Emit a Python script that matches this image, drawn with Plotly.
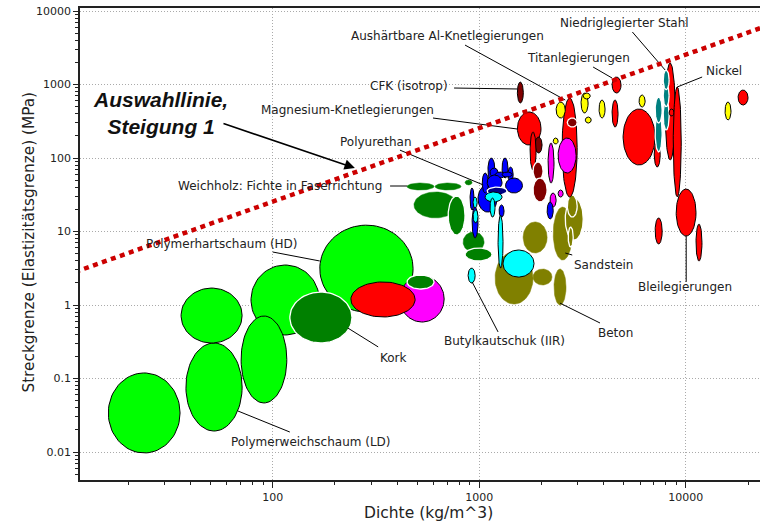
import numpy as np
import plotly.graph_objects as go

# ---------------- data: (family, rho_lo, rho_hi, sigma_lo, sigma_hi) ----------------
# density in kg/m^3, yield strength in MPa
FOAMS_NATURAL = [
    ("foam", 16.0, 35.6, 0.0097, 0.119),
    ("foam", 38.0, 71.1, 0.0193, 0.304),
    ("foam", 36.0, 71.1, 0.304, 1.70),
    ("foam", 78.5, 168, 0.391, 3.50),
    ("foam", 70.3, 117, 0.0465, 0.708),
    ("foam", 169, 478, 0.804, 12.2),
    ("natural", 121, 242, 0.304, 1.50),
    ("techceramic", 413, 676, 0.587, 2.48),
    ("metal", 239, 489, 0.687, 2.06),
    ("natural", 447, 604, 1.65, 2.56),
]
FOAMS_NATURAL_EDGE = "kkkkkkwkkw"

CERAMICS = [
    ("ceramic", 1192, 1820, 1.03, 5.26),
    ("ceramic", 1630, 2130, 5.10, 13.5),
    ("ceramic", 1820, 2250, 1.87, 3.09),
    ("ceramic", 2300, 2630, 1.0, 3.09),
    ("ceramic", 2280, 2818, 4.09, 21.5),
    ("ceramic", 2607, 3186, 7.66, 28.6),
    ("ceramic", 2668, 2978, 15.7, 31.4),
    ("ceramic", 2694, 2849, 6.15, 11.5),
]
CERAMICS_EDGE = "nnnnnwww"

WOOD_POLYMERS = [
    ("natural", 447, 604, 36.7, 45.7),
    ("natural", 611, 816, 36.7, 45.7),
    ("natural", 483, 781, 15.3, 34.5),
    ("natural", 707, 853, 8.95, 30.4),
    ("natural", 835, 1055, 5.26, 9.84),
    ("natural", 853, 1153, 3.97, 5.97),
    ("natural", 853, 923, 43.0, 50.2),
    ("elastomer", 883, 955, 1.99, 3.18),
    ("polymer", 986, 1219, 18.4, 43.0),
    ("polymer", 902, 944, 19.6, 39.1),
    ("elastomer", 933, 977, 20.9, 29.4),
    ("polymer", 923, 986, 8.17, 21.5),
    ("elastomer", 933, 986, 13.1, 19.6),
    ("polymer", 1033, 1106, 33.4, 62.5),
    ("polymer", 1101, 1190, 47.1, 100),
    ("polymer", 1289, 1377, 53.4, 100),
    ("polymer", 1377, 1459, 47.1, 75.5),
    ("polymer", 1127, 1233, 55.1, 73.1),
    ("polymer", 1192, 1333, 53.4, 64.5),
    ("polymer", 1289, 1442, 55.1, 64.5),
    ("polymer", 1340, 1618, 33.4, 53.4),
    ("polymer", 1092, 1289, 36.7, 58.7),
    ("polymer_dark", 1092, 1362, 31.4, 40.3),
    ("elastomer", 1067, 1289, 25.2, 34.5),
    ("elastomer", 1127, 1192, 15.7, 28.6),
    ("polymer", 1247, 1318, 15.7, 23.0),
    ("elastomer", 1233, 1303, 3.18, 16.7),
    ("elastomer", 1303, 1841, 2.40, 5.60),
]
WOOD_POLYMERS_EDGE = "nnnwnwnkkkkkkkkkkkkkkkwkkkkk"

METALS_COMPOSITES = [
    ("composite", 1529, 1634, 560, 1081),
    ("metal", 1529, 1990, 150, 423),
    ("composite", 1862, 2014, 117, 193),
    ("metal", 1761, 1883, 68.7, 226),
    ("composite", 1820, 2036, 50.2, 88.3),
    ("composite", 1820, 2130, 25.2, 53.4),
    ("metal", 2518, 2978, 29.4, 655),
    ("glass", 2355, 2607, 350, 578),
    ("composite", 2668, 2978, 264, 350),
    ("techceramic", 2153, 2300, 45.7, 160),
    ("techceramic", 2408, 2943, 62.5, 187),
    ("techceramic", 2200, 2355, 21.5, 33.4),
    ("techceramic", 2408, 2547, 29.4, 36.7),
    ("glass", 2280, 2408, 155, 187),
    ("polymer", 2130, 2280, 14.8, 25.2),
    ("glass", 3110, 3363, 409, 766),
    ("glass", 3186, 3444, 635, 766),
    ("glass", 3259, 3483, 299, 361),
    ("glass", 3800, 4064, 350, 615),
    ("metal", 4394, 4856, 766, 1264),
    ("metal", 4394, 4698, 264, 615),
    ("glass", 5937, 6350, 494, 719),
    ("metal", 4969, 7095, 80.4, 464),
    ("metal", 7030, 7516, 75.5, 165),
    ("teal", 7100, 7680, 121, 400),
    ("teal", 7100, 7680, 300, 676),
    ("metal", 7940, 8880, 94, 1963),
    ("teal", 7770, 8300, 240, 600),
    ("teal", 7770, 8300, 500, 1000),
    ("teal", 7770, 8300, 850, 1574),
    ("metal", 8300, 8770, 372, 464),
    ("metal", 8690, 9500, 29.4, 925),
    ("metal", 8980, 11200, 8.69, 37.8),
    ("metal", 7100, 7680, 6.76, 15.3),
    ("metal", 11200, 11970, 3.97, 12.6),
    ("glass", 15480, 16540, 329, 578),
    ("metal", 17900, 20000, 526, 841),
]
METALS_COMPOSITES_EDGE = "kkkkwwkkwkkkkkkkkkkkkkkkwwkwwwkkkkkkk"

# selection line, slope 1:  sigma = C * rho
LINE_RHO = [10, 30000]
LINE_SIGMA = [2.55, 7650]

# material labels: text, rho, sigma (anchor at text centre)
LABELS = [
    ("Niedriglegierter Stahl", 5036, 6870),
    ("Aushärtbare Al-Knetlegierungen", 700, 4570),
    ("Titanlegierungen", 3010, 2296),
    ("CFK (isotrop)", 458, 955),
    ("Nickel", 15230, 1528),
    ("Magnesium-Knetlegierungen", 230, 449),
    ("Polyurethan", 316, 165),
    ("Weichholz: Fichte in Faserrichtung", 109, 41.6),
    ("Polymerhartschaum (HD)", 56.8, 6.76),
    ("Sandstein", 3980, 3.50),
    ("Bleilegierungen", 9930, 1.76),
    ("Beton", 4590, 0.416),
    ("Butylkautschuk (IIR)", 1325, 0.324),
    ("Kork", 383, 0.190),
    ("Polymerweichschaum (LD)", 154, 0.0137),
]
# leader lines: (rho0, sigma0, rho1, sigma1)
LEADERS = [
    (5510, 5180, 7940, 1574),
    (853, 3443, 2607, 615),
    (3556, 1730, 4394, 1225),
    (755, 896, 1529, 869),
    (11990, 1264, 9080, 925),
    (597, 350, 1529, 248),
    (413, 128, 1045, 43.0),
    (370, 41.6, 447, 41.6),
    (100, 5.26, 169, 3.97),
    (2607, 5.10, 2818, 4.79),
    (10040, 8.69, 10040, 2.06),
    (2460, 1.06, 3842, 0.569),
    (923, 2.06, 1233, 0.430),
    (231, 0.486, 324, 0.269),
    (67.9, 0.0361, 121, 0.0187),
]

X_TICKS = [100, 1000, 10000]
X_TICKTEXT = ["100", "1000", "10000"]
Y_TICKS = [0.01, 0.1, 1, 10, 100, 1000, 10000]
Y_TICKTEXT = ["0.01", "0.1", "1", "10", "100", "1000", "10000"]

X_TITLE = "Dichte (kg/m^3)"
Y_TITLE = "Streckgrenze (Elastizitätsgrenze) (MPa)"

# ---------------- styles ----------------
COLORS = {
    "foam": "#00FF00", "natural": "#008000", "metal": "#FF0000",
    "polymer": "#0000FF", "polymer_dark": "#000080", "elastomer": "#00FFFF",
    "ceramic": "#808000", "composite": "#800000", "glass": "#FFFF00",
    "techceramic": "#FF00FF", "teal": "#008080",
}
EDGE = {"k": ("#000000", 1.0), "w": ("#FFFFFF", 1.3), "n": (None, 0.5)}
FONT = "DejaVu Sans"
TXT = "#222222"

fig = go.Figure()

t = np.linspace(0, 2 * np.pi, 80)


def add_ellipses(items, edges):
    for (fam, r0, r1, s0, s1), e in zip(items, edges):
        cx = (np.log10(r0) + np.log10(r1)) / 2
        ax = (np.log10(r1) - np.log10(r0)) / 2
        cy = (np.log10(s0) + np.log10(s1)) / 2
        ay = (np.log10(s1) - np.log10(s0)) / 2
        xs = 10 ** (cx + ax * np.cos(t))
        ys = 10 ** (cy + ay * np.sin(t))
        col = COLORS[fam]
        lc, lw = EDGE[e]
        fig.add_trace(go.Scatter(
            x=xs, y=ys, mode="lines", fill="toself", fillcolor=col,
            line=dict(color=lc if lc else col, width=lw),
            hoverinfo="skip", showlegend=False))


add_ellipses(FOAMS_NATURAL, FOAMS_NATURAL_EDGE)
add_ellipses(CERAMICS, CERAMICS_EDGE)
add_ellipses(WOOD_POLYMERS, WOOD_POLYMERS_EDGE)
add_ellipses(METALS_COMPOSITES, METALS_COMPOSITES_EDGE)

# leader lines
for r0, s0, r1, s1 in LEADERS:
    fig.add_trace(go.Scatter(x=[r0, r1], y=[s0, s1], mode="lines",
                             line=dict(color="#000000", width=1),
                             hoverinfo="skip", showlegend=False))

# selection line
fig.add_trace(go.Scatter(x=LINE_RHO, y=LINE_SIGMA, mode="lines",
                         line=dict(color="#CC0000", width=4.5, dash="5px,4.5px"),
                         hoverinfo="skip", showlegend=False))

for text, r, s in LABELS:
    fig.add_annotation(x=np.log10(r), y=np.log10(s), text=text, showarrow=False,
                       xanchor="center", yanchor="middle",
                       font=dict(family=FONT, size=12, color=TXT))

fig.add_annotation(x=np.log10(28.5), y=np.log10(416),
                   text="<b><i>Auswahllinie,<br>Steigung 1</i></b>",
                   showarrow=False, xanchor="center", yanchor="middle",
                   font=dict(family="Liberation Sans", size=21, color="#111111"))
fig.add_annotation(x=np.log10(250), y=np.log10(73.1), ax=np.log10(56.8), ay=np.log10(299),
                   axref="x", ayref="y", text="", showarrow=True,
                   arrowhead=2, arrowsize=1.3, arrowwidth=1.6, arrowcolor="#000000")

# axis titles
fig.add_annotation(xref="paper", yref="paper", x=0.512, y=-0.070, text=X_TITLE,
                   showarrow=False, xanchor="center", yanchor="middle",
                   font=dict(family=FONT, size=15.5, color=TXT))
fig.add_annotation(xref="paper", yref="paper", x=-0.075, y=0.503, text=Y_TITLE,
                   showarrow=False, xanchor="center", yanchor="middle", textangle=-90,
                   font=dict(family=FONT, size=15.3, color=TXT))

minor_x = [m * 10 ** k for k in range(1, 5) for m in range(2, 10)]
minor_y = [m * 10 ** k for k in range(-3, 4) for m in range(2, 10)]

fig.update_layout(
    width=763, height=523,
    margin=dict(l=80, r=3, t=8, b=43, autoexpand=False),
    paper_bgcolor="white", plot_bgcolor="white",
    font=dict(family=FONT, color=TXT),
    xaxis=dict(
        type="log", range=[1.067, 4.359], automargin=False,
        tickmode="array", tickvals=X_TICKS, ticktext=X_TICKTEXT,
        ticks="outside", ticklen=6, tickcolor="#222",
        showline=True, linecolor="#222", linewidth=1.5, mirror=True,
        showgrid=True, gridcolor="#AAAAAA", griddash="1px,2px", gridwidth=1,
        zeroline=False, tickfont=dict(family=FONT, size=11, color=TXT),
        ticklabeloverflow="allow",
        minor=dict(tickmode="array", tickvals=minor_x, ticks="outside",
                   ticklen=3, tickcolor="#222", showgrid=False),
    ),
    yaxis=dict(
        type="log", range=[-2.381, 4.041], automargin=False,
        tickmode="array", tickvals=Y_TICKS, ticktext=Y_TICKTEXT,
        ticks="outside", ticklen=5, tickcolor="#222",
        showline=True, linecolor="#222", linewidth=1.5,
        showgrid=True, gridcolor="#AAAAAA", griddash="1px,2px", gridwidth=1,
        zeroline=False, tickfont=dict(family=FONT, size=11, color=TXT),
        ticklabeloverflow="allow",
        minor=dict(tickmode="array", tickvals=minor_y, ticks="outside",
                   ticklen=3, tickcolor="#222", showgrid=False),
    ),
)

# remove the browser's default 8px page margin so the figure fills the window
fig.write_html("out.html", config={"displayModeBar": False},
               post_script="document.body.style.margin='0px';")
